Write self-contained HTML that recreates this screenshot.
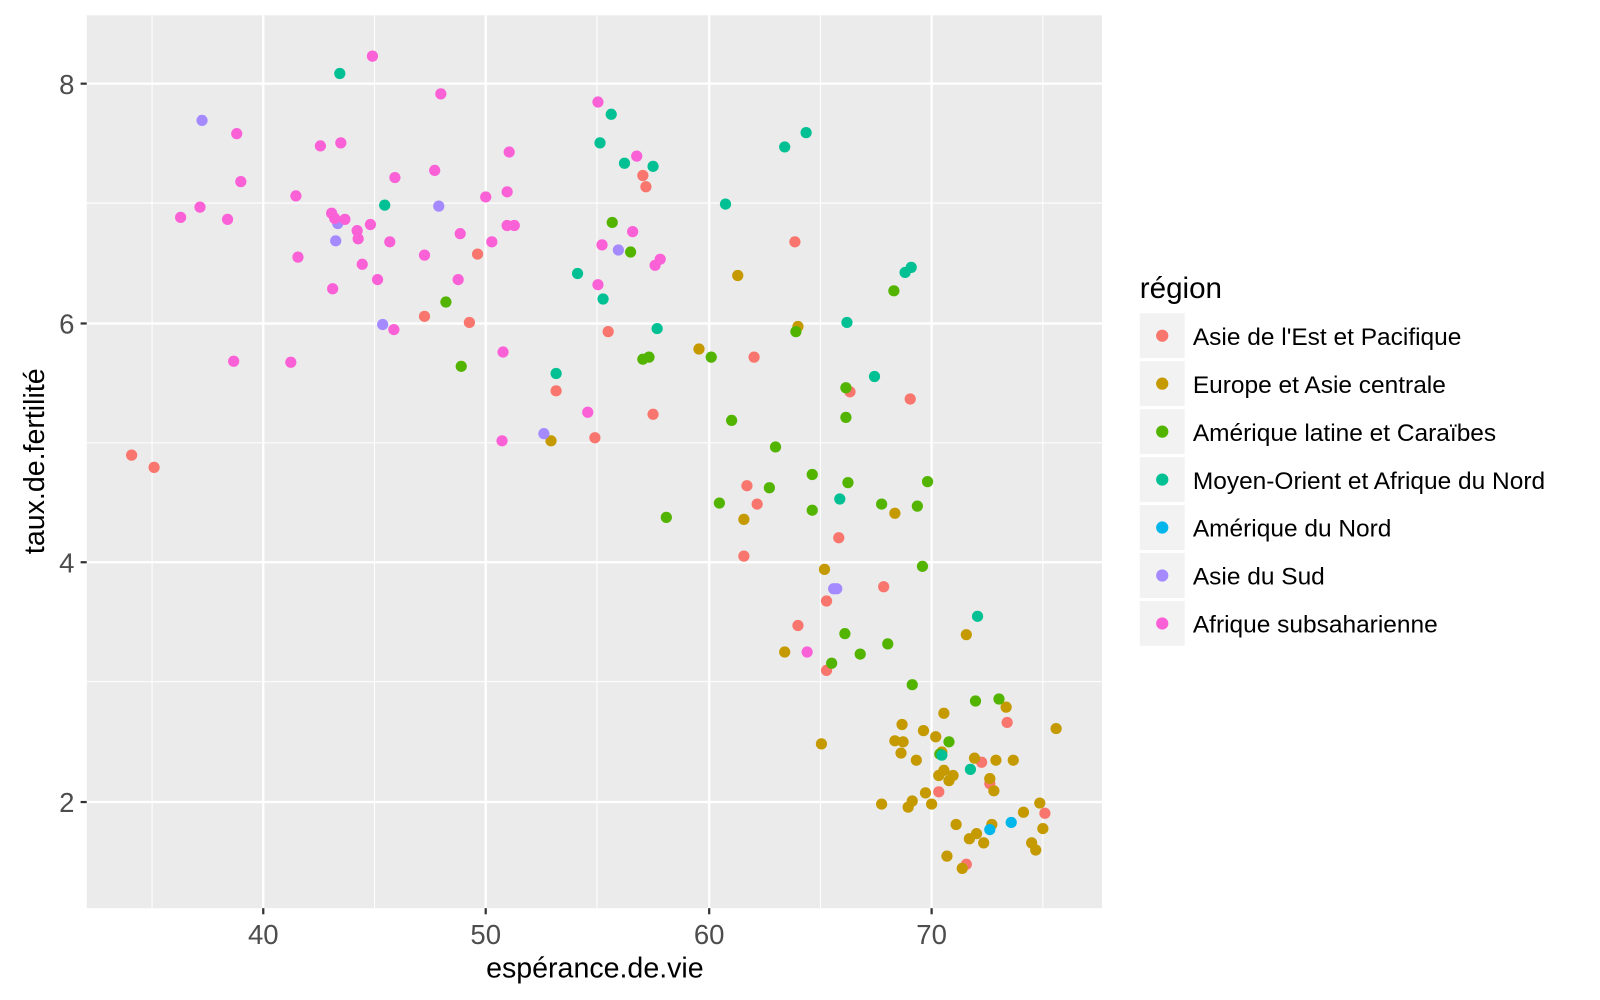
<!DOCTYPE html>
<html><head><meta charset="utf-8"><style>html,body{margin:0;padding:0;background:#fff}svg{display:block}</style></head>
<body>
<svg width="1600" height="1000" viewBox="0 0 1568 980" xmlns="http://www.w3.org/2000/svg" font-family="'Liberation Sans', sans-serif">
<rect x="85" y="15" width="995" height="875" fill="#EBEBEB"/>
<g stroke="#fff" stroke-width="1">
<line x1="149" y1="15" x2="149" y2="890"/><line x1="367" y1="15" x2="367" y2="890"/><line x1="585" y1="15" x2="585" y2="890"/><line x1="804" y1="15" x2="804" y2="890"/><line x1="1022" y1="15" x2="1022" y2="890"/>
<line x1="85" y1="199" x2="1080" y2="199"/><line x1="85" y1="434" x2="1080" y2="434"/><line x1="85" y1="668" x2="1080" y2="668"/>
</g>
<g stroke="#fff" stroke-width="2.2">
<line x1="258" y1="15" x2="258" y2="890"/><line x1="476" y1="15" x2="476" y2="890"/><line x1="695" y1="15" x2="695" y2="890"/><line x1="913" y1="15" x2="913" y2="890"/>
<line x1="85" y1="82" x2="1080" y2="82"/><line x1="85" y1="317" x2="1080" y2="317"/><line x1="85" y1="551" x2="1080" y2="551"/><line x1="85" y1="786" x2="1080" y2="786"/>
</g>
<g stroke="#333" stroke-width="2.2">
<line x1="258" y1="890" x2="258" y2="896"/><line x1="476" y1="890" x2="476" y2="896"/><line x1="695" y1="890" x2="695" y2="896"/><line x1="913" y1="890" x2="913" y2="896"/>
<line x1="79" y1="82" x2="85" y2="82"/><line x1="79" y1="317" x2="85" y2="317"/><line x1="79" y1="551" x2="85" y2="551"/><line x1="79" y1="786" x2="85" y2="786"/>
</g>
<g fill="#4D4D4D" font-size="27" text-anchor="middle">
<text x="258" y="925">40</text><text x="476" y="925">50</text><text x="695" y="925">60</text><text x="913" y="925">70</text>
</g>
<g fill="#4D4D4D" font-size="27" text-anchor="end">
<text x="73" y="92">8</text><text x="73" y="327">6</text><text x="73" y="561">4</text><text x="73" y="796">2</text>
</g>
<text x="583" y="958" font-size="28" text-anchor="middle">espérance.de.vie</text>
<text transform="translate(43,452) rotate(-90)" font-size="28" text-anchor="middle">taux.de.fertilité</text>
<g>
<g fill="#F8766D">
<circle cx="129" cy="446" r="5.5"/><circle cx="151" cy="458" r="5.5"/><circle cx="416" cy="310" r="5.5"/><circle cx="460" cy="316" r="5.5"/><circle cx="468" cy="249" r="5.5"/><circle cx="545" cy="383" r="5.5"/><circle cx="583" cy="429" r="5.5"/><circle cx="596" cy="325" r="5.5"/><circle cx="630" cy="172" r="5.5"/><circle cx="633" cy="183" r="5.5"/><circle cx="640" cy="406" r="5.5"/><circle cx="732" cy="476" r="5.5"/><circle cx="742" cy="494" r="5.5"/><circle cx="729" cy="545" r="5.5"/><circle cx="739" cy="350" r="5.5"/><circle cx="779" cy="237" r="5.5"/><circle cx="782" cy="613" r="5.5"/><circle cx="810" cy="657" r="5.5"/><circle cx="822" cy="527" r="5.5"/><circle cx="833" cy="384" r="5.5"/><circle cx="866" cy="575" r="5.5"/><circle cx="892" cy="391" r="5.5"/><circle cx="920" cy="776" r="5.5"/><circle cx="962" cy="747" r="5.5"/><circle cx="970" cy="768" r="5.5"/><circle cx="987" cy="708" r="5.5"/><circle cx="1024" cy="797" r="5.5"/><circle cx="947" cy="847" r="5.5"/><circle cx="810" cy="589" r="5.5"/>
</g>
<g fill="#C49A00">
<circle cx="540" cy="432" r="5.5"/><circle cx="685" cy="342" r="5.5"/><circle cx="723" cy="270" r="5.5"/><circle cx="782" cy="320" r="5.5"/><circle cx="729" cy="509" r="5.5"/><circle cx="769" cy="639" r="5.5"/><circle cx="805" cy="729" r="5.5"/><circle cx="808" cy="558" r="5.5"/><circle cx="864" cy="788" r="5.5"/><circle cx="877" cy="503" r="5.5"/><circle cx="877" cy="726" r="5.5"/><circle cx="884" cy="710" r="5.5"/><circle cx="885" cy="727" r="5.5"/><circle cx="883" cy="738" r="5.5"/><circle cx="890" cy="791" r="5.5"/><circle cx="894" cy="785" r="5.5"/><circle cx="898" cy="745" r="5.5"/><circle cx="905" cy="716" r="5.5"/><circle cx="907" cy="777" r="5.5"/><circle cx="913" cy="788" r="5.5"/><circle cx="917" cy="722" r="5.5"/><circle cx="920" cy="760" r="5.5"/><circle cx="923" cy="737" r="5.5"/><circle cx="925" cy="699" r="5.5"/><circle cx="925" cy="755" r="5.5"/><circle cx="930" cy="765" r="5.5"/><circle cx="934" cy="760" r="5.5"/><circle cx="937" cy="808" r="5.5"/><circle cx="947" cy="622" r="5.5"/><circle cx="950" cy="822" r="5.5"/><circle cx="955" cy="743" r="5.5"/><circle cx="957" cy="817" r="5.5"/><circle cx="964" cy="826" r="5.5"/><circle cx="970" cy="763" r="5.5"/><circle cx="974" cy="775" r="5.5"/><circle cx="976" cy="745" r="5.5"/><circle cx="986" cy="693" r="5.5"/><circle cx="993" cy="745" r="5.5"/><circle cx="1003" cy="796" r="5.5"/><circle cx="1011" cy="826" r="5.5"/><circle cx="1015" cy="833" r="5.5"/><circle cx="1019" cy="787" r="5.5"/><circle cx="1022" cy="812" r="5.5"/><circle cx="1035" cy="714" r="5.5"/><circle cx="943" cy="851" r="5.5"/><circle cx="928" cy="839" r="5.5"/><circle cx="972" cy="808" r="5.5"/>
</g>
<g fill="#53B400">
<circle cx="437" cy="296" r="5.5"/><circle cx="452" cy="359" r="5.5"/><circle cx="600" cy="218" r="5.5"/><circle cx="618" cy="247" r="5.5"/><circle cx="630" cy="352" r="5.5"/><circle cx="636" cy="350" r="5.5"/><circle cx="653" cy="507" r="5.5"/><circle cx="697" cy="350" r="5.5"/><circle cx="705" cy="493" r="5.5"/><circle cx="717" cy="412" r="5.5"/><circle cx="760" cy="438" r="5.5"/><circle cx="754" cy="478" r="5.5"/><circle cx="780" cy="325" r="5.5"/><circle cx="796" cy="465" r="5.5"/><circle cx="796" cy="500" r="5.5"/><circle cx="815" cy="650" r="5.5"/><circle cx="828" cy="621" r="5.5"/><circle cx="829" cy="380" r="5.5"/><circle cx="829" cy="409" r="5.5"/><circle cx="831" cy="473" r="5.5"/><circle cx="843" cy="641" r="5.5"/><circle cx="864" cy="494" r="5.5"/><circle cx="870" cy="631" r="5.5"/><circle cx="876" cy="285" r="5.5"/><circle cx="894" cy="671" r="5.5"/><circle cx="899" cy="496" r="5.5"/><circle cx="904" cy="555" r="5.5"/><circle cx="909" cy="472" r="5.5"/><circle cx="921" cy="739" r="5.5"/><circle cx="930" cy="727" r="5.5"/><circle cx="956" cy="687" r="5.5"/><circle cx="979" cy="685" r="5.5"/>
</g>
<g fill="#00C094">
<circle cx="333" cy="72" r="5.5"/><circle cx="377" cy="201" r="5.5"/><circle cx="545" cy="366" r="5.5"/><circle cx="566" cy="268" r="5.5"/><circle cx="588" cy="140" r="5.5"/><circle cx="591" cy="293" r="5.5"/><circle cx="599" cy="112" r="5.5"/><circle cx="612" cy="160" r="5.5"/><circle cx="640" cy="163" r="5.5"/><circle cx="644" cy="322" r="5.5"/><circle cx="711" cy="200" r="5.5"/><circle cx="769" cy="144" r="5.5"/><circle cx="790" cy="130" r="5.5"/><circle cx="823" cy="489" r="5.5"/><circle cx="830" cy="316" r="5.5"/><circle cx="857" cy="369" r="5.5"/><circle cx="887" cy="267" r="5.5"/><circle cx="893" cy="262" r="5.5"/><circle cx="958" cy="604" r="5.5"/><circle cx="951" cy="754" r="5.5"/><circle cx="923" cy="740" r="5.5"/>
</g>
<g fill="#00B6EB">
<circle cx="970" cy="813" r="5.5"/><circle cx="991" cy="806" r="5.5"/>
</g>
<g fill="#A58AFF">
<circle cx="198" cy="118" r="5.5"/><circle cx="329" cy="236" r="5.5"/><circle cx="331" cy="219" r="5.5"/><circle cx="375" cy="318" r="5.5"/><circle cx="430" cy="202" r="5.5"/><circle cx="533" cy="425" r="5.5"/><circle cx="606" cy="245" r="5.5"/><circle cx="817" cy="577" r="5.5"/><circle cx="820" cy="577" r="5.5"/>
</g>
<g fill="#FB61D7">
<circle cx="365" cy="55" r="5.5"/><circle cx="432" cy="92" r="5.5"/><circle cx="314" cy="143" r="5.5"/><circle cx="334" cy="140" r="5.5"/><circle cx="232" cy="131" r="5.5"/><circle cx="236" cy="178" r="5.5"/><circle cx="196" cy="203" r="5.5"/><circle cx="177" cy="213" r="5.5"/><circle cx="223" cy="215" r="5.5"/><circle cx="290" cy="192" r="5.5"/><circle cx="292" cy="252" r="5.5"/><circle cx="325" cy="209" r="5.5"/><circle cx="328" cy="214" r="5.5"/><circle cx="338" cy="215" r="5.5"/><circle cx="350" cy="226" r="5.5"/><circle cx="351" cy="234" r="5.5"/><circle cx="363" cy="220" r="5.5"/><circle cx="382" cy="237" r="5.5"/><circle cx="387" cy="174" r="5.5"/><circle cx="355" cy="259" r="5.5"/><circle cx="370" cy="274" r="5.5"/><circle cx="326" cy="283" r="5.5"/><circle cx="416" cy="250" r="5.5"/><circle cx="426" cy="167" r="5.5"/><circle cx="449" cy="274" r="5.5"/><circle cx="451" cy="229" r="5.5"/><circle cx="476" cy="193" r="5.5"/><circle cx="482" cy="237" r="5.5"/><circle cx="497" cy="188" r="5.5"/><circle cx="499" cy="149" r="5.5"/><circle cx="497" cy="221" r="5.5"/><circle cx="504" cy="221" r="5.5"/><circle cx="493" cy="345" r="5.5"/><circle cx="492" cy="432" r="5.5"/><circle cx="229" cy="354" r="5.5"/><circle cx="285" cy="355" r="5.5"/><circle cx="386" cy="323" r="5.5"/><circle cx="586" cy="100" r="5.5"/><circle cx="586" cy="279" r="5.5"/><circle cx="590" cy="240" r="5.5"/><circle cx="620" cy="227" r="5.5"/><circle cx="624" cy="153" r="5.5"/><circle cx="642" cy="260" r="5.5"/><circle cx="647" cy="254" r="5.5"/><circle cx="576" cy="404" r="5.5"/><circle cx="791" cy="639" r="5.5"/>
</g>
</g>
<text x="1117" y="292" font-size="29">région</text>
<g fill="#F2F2F2">
<rect x="1117" y="307" width="44" height="44"/><rect x="1117" y="354" width="44" height="44"/><rect x="1117" y="401" width="44" height="44"/><rect x="1117" y="448" width="44" height="44"/><rect x="1117" y="495" width="44" height="44"/><rect x="1117" y="542" width="44" height="44"/><rect x="1117" y="589" width="44" height="44"/>
</g>
<circle cx="1139" cy="329" r="6" fill="#F8766D"/><circle cx="1139" cy="376" r="6" fill="#C49A00"/><circle cx="1139" cy="423" r="6" fill="#53B400"/><circle cx="1139" cy="470" r="6" fill="#00C094"/><circle cx="1139" cy="517" r="6" fill="#00B6EB"/><circle cx="1139" cy="564" r="6" fill="#A58AFF"/><circle cx="1139" cy="611" r="6" fill="#FB61D7"/>
<g font-size="24" fill="#000">
<text x="1169" y="338">Asie de l'Est et Pacifique</text>
<text x="1169" y="385">Europe et Asie centrale</text>
<text x="1169" y="432">Amérique latine et Caraïbes</text>
<text x="1169" y="479">Moyen-Orient et Afrique du Nord</text>
<text x="1169" y="526">Amérique du Nord</text>
<text x="1169" y="573">Asie du Sud</text>
<text x="1169" y="620">Afrique subsaharienne</text>
</g>
</svg>
</body></html>
